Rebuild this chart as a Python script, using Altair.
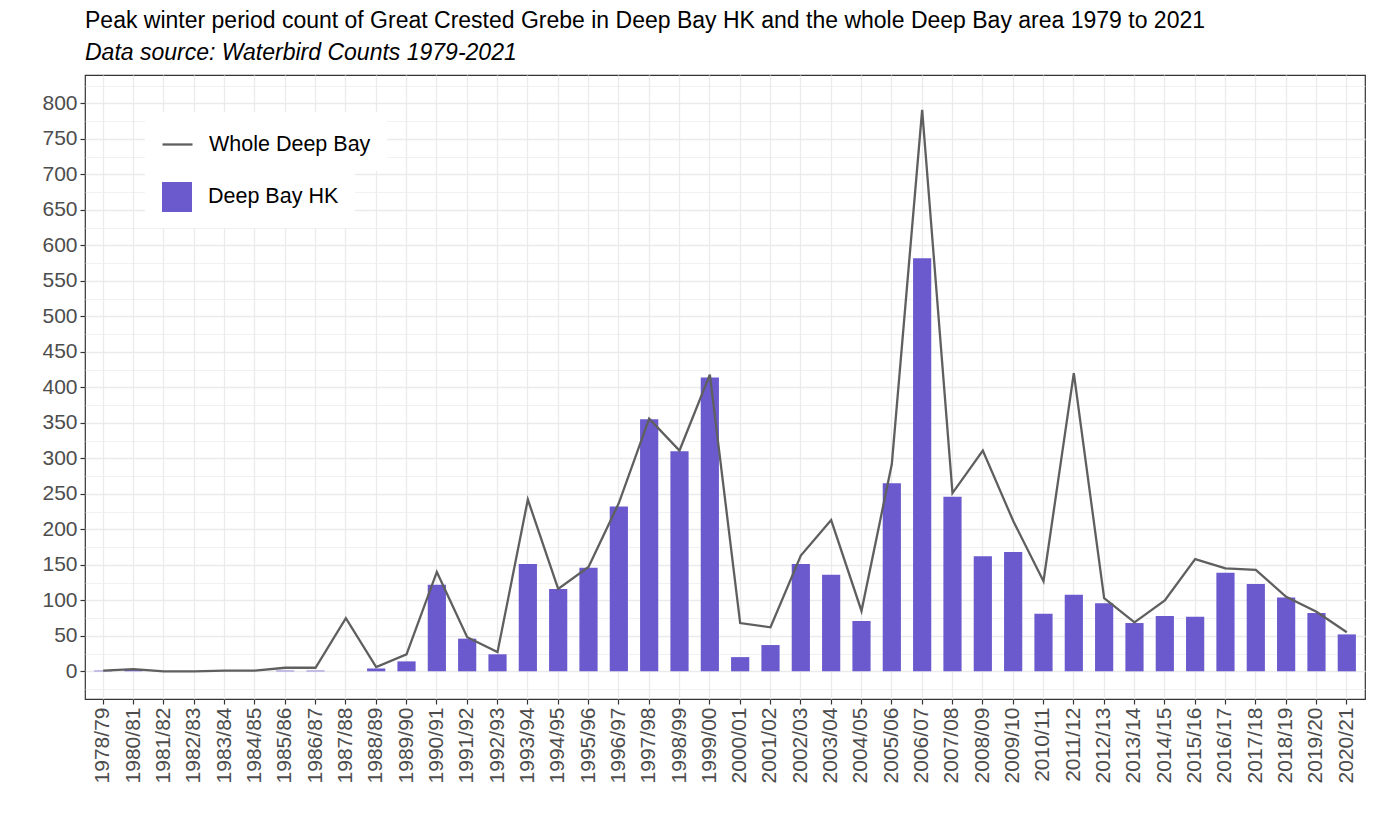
import altair as alt
import pandas as pd

seasons = [
    "1978/79", "1980/81", "1981/82", "1982/83", "1983/84", "1984/85", "1985/86",
    "1986/87", "1987/88", "1988/89", "1989/90", "1990/91", "1991/92", "1992/93",
    "1993/94", "1994/95", "1995/96", "1996/97", "1997/98", "1998/99", "1999/00",
    "2000/01", "2001/02", "2002/03", "2003/04", "2004/05", "2005/06", "2006/07",
    "2007/08", "2008/09", "2009/10", "2010/11", "2011/12", "2012/13", "2013/14",
    "2014/15", "2015/16", "2016/17", "2017/18", "2018/19", "2019/20", "2020/21",
]
whole_deep_bay = [
    1, 3, 0, 0, 1, 1, 5, 5, 75, 6, 24, 140, 48, 27, 242, 116, 147, 237, 356, 311,
    418, 68, 62, 163, 213, 85, 292, 791, 251, 311, 212, 127, 420, 103, 69, 100,
    158, 145, 143, 105, 84, 55,
]
deep_bay_hk = [
    1, 2, 0, 0, 0, 0, 1, 1, 0, 4, 14, 122, 46, 24, 151, 116, 146, 232, 355, 310,
    414, 20, 37, 151, 136, 71, 265, 582, 246, 162, 168, 81, 108, 96, 68, 78,
    77, 139, 123, 104, 82, 52,
]
line_name = "Whole Deep Bay"
bar_name = "Deep Bay HK"
line_color = "#5F5F5F"
bar_color = "#6A5ACD"
y_tick_values = list(range(-25, 826, 25))

df = pd.DataFrame({"season": seasons, "whole": whole_deep_bay, "hk": deep_bay_hk})
df["whole_series"] = line_name
df["hk_series"] = bar_name

FONT = "Liberation Sans"
is_major = "datum.value % 50 === 0"

x_enc = alt.X(
    "season:N",
    sort=seasons,
    scale=alt.Scale(paddingInner=0.4, paddingOuter=0.3),
    axis=alt.Axis(
        title=None,
        labelAngle=270,
        labelFontSize=21,
        labelColor="#4D4D4D",
        labelFont=FONT,
        labelPadding=3,
        tickSize=5,
        tickColor="#333333",
        tickWidth=1.2,
        domain=False,
        grid=True,
        gridColor="#EBEBEB",
        gridWidth=1.3,
    ),
)

y_scale = alt.Scale(domain=[-39, 840], nice=False, zero=False)
y_axis = alt.Axis(
    title=None,
    values=y_tick_values,
    labelExpr="datum.value % 50 === 0 ? datum.label : ''",
    labelFontSize=21,
    labelColor="#4D4D4D",
    labelFont=FONT,
    labelPadding=3,
    tickSize=5,
    tickWidth=1.2,
    tickColor={"condition": {"test": is_major, "value": "#333333"}, "value": "transparent"},
    domain=False,
    grid=True,
    gridColor="#EBEBEB",
    gridWidth={"condition": {"test": is_major, "value": 1.3}, "value": 0.7},
)

common_legend = dict(
    title=None,
    orient="none",
    legendX=60,
    fillColor="white",
    padding=16,
    labelFontSize=21.5,
    labelColor="black",
    labelFont=FONT,
    labelLimit=400,
    symbolSize=900,
    labelOffset=15,
)

bars = alt.Chart(df).mark_bar(opacity=1).encode(
    x=x_enc,
    y=alt.Y("hk:Q", scale=y_scale, axis=y_axis),
    y2=alt.datum(0),
    fill=alt.Fill(
        "hk_series:N",
        scale=alt.Scale(domain=[bar_name], range=[bar_color]),
        legend=alt.Legend(legendY=90, symbolType="square", symbolOpacity=1, **common_legend),
    ),
)

line = alt.Chart(df).mark_line(strokeWidth=2.3).encode(
    x=x_enc,
    y=alt.Y("whole:Q", scale=y_scale, axis=y_axis),
    stroke=alt.Stroke(
        "whole_series:N",
        scale=alt.Scale(domain=[line_name], range=[line_color]),
        legend=alt.Legend(legendY=37, symbolType="stroke", symbolStrokeWidth=2.3, **common_legend),
    ),
)

chart = (
    alt.layer(bars, line)
    .properties(
        width=1280,
        height=624,
        background="white",
        padding={"left": 33, "top": 2, "right": 5, "bottom": 5},
        title=alt.Title(
            text="Peak winter period count of Great Crested Grebe in Deep Bay HK and the whole Deep Bay area 1979 to 2021",
            subtitle="Data source: Waterbird Counts 1979-2021",
            anchor="start",
            frame="group",
            font=FONT,
            fontSize=23,
            fontWeight="normal",
            color="black",
            subtitleFont=FONT,
            subtitleFontSize=23,
            subtitleFontStyle="italic",
            subtitleColor="black",
            subtitlePadding=9,
            offset=10,
        ),
    )
    .configure_view(stroke="#333333", strokeWidth=1.2)
)

chart.save("out.html", embed_options={"renderer": "svg", "actions": False})
